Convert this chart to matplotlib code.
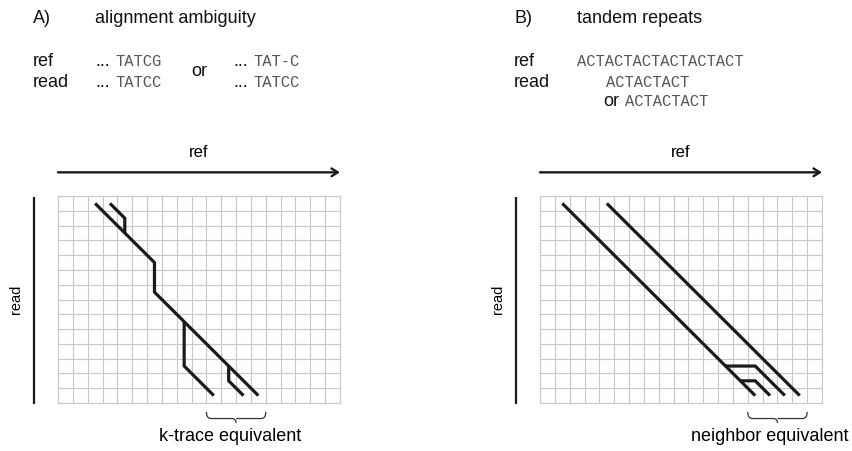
import matplotlib
matplotlib.use('Agg')
import matplotlib.pyplot as plt
from matplotlib.path import Path
from matplotlib.patches import PathPatch

plt.rcParams['font.family'] = ['Liberation Sans', 'DejaVu Sans']

# grid size (columns = ref positions, rows = read positions)
n_cols = 19
n_rows = 14

# panel A: traces through the alignment grid (cell centres)
a_main_x = [2.5, 6.5, 6.5, 13.5]
a_main_y = [0.5, 4.5, 6.5, 13.5]
a_top_x = [3.5, 4.5, 4.5]
a_top_y = [0.5, 1.5, 2.5]
a_mid_x = [8.5, 8.5, 10.5]
a_mid_y = [8.5, 11.5, 13.5]
a_low_x = [11.5, 11.5, 12.5]
a_low_y = [11.5, 12.5, 13.5]

# panel B: tandem repeat traces
b_diag1_x = [1.5, 14.5]
b_diag1_y = [0.5, 13.5]
b_diag2_x = [4.5, 17.5]
b_diag2_y = [0.5, 13.5]
b_br1_x = [12.5, 14.5, 16.5]
b_br1_y = [11.5, 11.5, 13.5]
b_br2_x = [13.5, 14.5, 15.5]
b_br2_y = [12.5, 12.5, 13.5]

# braces (column span) and labels
brace_a = [10, 14]
brace_b = [14, 18]
label_a = 'k-trace equivalent'
label_b = 'neighbor equivalent'

W, H = 852, 451
fig = plt.figure(figsize=(W / 100, H / 100), dpi=100)

def fx(px):
    return px / W

def fy(py):
    return 1 - py / H

ink = '#1a1a1a'
mono_col = '#555555'
big = 13

def setup_grid(ax):
    ax.set_xlim(0, n_cols)
    ax.set_ylim(n_rows, 0)
    ax.set_xticks(range(n_cols + 1))
    ax.set_yticks(range(n_rows + 1))
    ax.tick_params(length=0, labelbottom=False, labelleft=False)
    ax.grid(True, color='#c8c8c8', lw=0.8)
    for s in ax.spines.values():
        s.set_color('#c8c8c8')
        s.set_linewidth(0.8)
    # ref arrow on top
    ax.annotate('', xy=(n_cols, -1.6), xytext=(0, -1.6),
                arrowprops=dict(arrowstyle='->,head_length=0.45,head_width=0.28',
                                lw=1.7, color=ink, shrinkA=0, shrinkB=0),
                annotation_clip=False)
    ax.text(n_cols / 2, -2.95, 'ref', ha='center', va='center', fontsize=12)
    # read bar at left
    ax.plot([-1.65, -1.65], [0.05, 14.05], color=ink, lw=1.6, clip_on=False,
            solid_capstyle='butt')
    ax.text(-2.83, 7.0, 'read', ha='center', va='center', rotation=90, fontsize=10.5)

def trace(ax, xs, ys):
    ax.plot(xs, ys, color=ink, lw=2.3, solid_capstyle='butt',
            solid_joinstyle='miter', clip_on=False)

def brace(ax, x0, x1, y0=14.6, depth=0.75):
    xm = (x0 + x1) / 2
    r = 0.3
    yb = y0 + depth * 0.6
    verts = [(x0, y0), (x0, yb), (x0 + r, yb),
             (xm - r, yb), (xm, yb), (xm, y0 + depth),
             (xm, yb), (xm + r, yb),
             (x1 - r, yb), (x1, yb), (x1, y0)]
    codes = [Path.MOVETO, Path.CURVE3, Path.CURVE3,
             Path.LINETO, Path.CURVE3, Path.CURVE3,
             Path.MOVETO, Path.CURVE3,
             Path.LINETO, Path.CURVE3, Path.CURVE3]
    ax.add_patch(PathPatch(Path(verts, codes), fc='none', ec='#333333',
                           lw=0.9, clip_on=False))

ax_a = fig.add_axes([fx(58), fy(403), 282 / W, 207 / H])
ax_b = fig.add_axes([fx(540), fy(403), 282 / W, 207 / H])
setup_grid(ax_a)
setup_grid(ax_b)

trace(ax_a, a_main_x, a_main_y)
trace(ax_a, a_top_x, a_top_y)
trace(ax_a, a_mid_x, a_mid_y)
trace(ax_a, a_low_x, a_low_y)

trace(ax_b, b_diag1_x, b_diag1_y)
trace(ax_b, b_diag2_x, b_diag2_y)
trace(ax_b, b_br1_x, b_br1_y)
trace(ax_b, b_br2_x, b_br2_y)

brace(ax_a, *brace_a)
brace(ax_b, *brace_b)
ax_a.text(11.6, 16.25, label_a, ha='center', va='center', fontsize=big)
ax_b.text(15.5, 16.25, label_b, ha='center', va='center', fontsize=big)

# header texts
sans = dict(fontsize=big, va='baseline', color='#111111')
mono = dict(fontsize=11.2, va='baseline', color=mono_col, family='Liberation Mono')

fig.text(fx(33), fy(22.7), 'A)', **sans)
fig.text(fx(95), fy(22.7), 'alignment ambiguity', **sans)
fig.text(fx(33), fy(66.5), 'ref', **sans)
fig.text(fx(33), fy(87), 'read', **sans)
fig.text(fx(95), fy(66.5), '...', **sans)
fig.text(fx(95), fy(87), '...', **sans)
fig.text(fx(115), fy(66), 'TATCG', **mono)
fig.text(fx(115), fy(87), 'TATCC', **mono)
fig.text(fx(191), fy(76), 'or', **sans)
fig.text(fx(233), fy(66.5), '...', **sans)
fig.text(fx(233), fy(87), '...', **sans)
fig.text(fx(253), fy(66), 'TAT-C', **mono)
fig.text(fx(253), fy(87), 'TATCC', **mono)

fig.text(fx(514), fy(22.7), 'B)', **sans)
fig.text(fx(577), fy(22.7), 'tandem repeats', **sans)
fig.text(fx(514), fy(66.5), 'ref', **sans)
fig.text(fx(514), fy(87), 'read', **sans)
fig.text(fx(577), fy(66), 'ACTACTACTACTACTACT', **mono)
fig.text(fx(606), fy(87), 'ACTACTACT', **mono)
fig.text(fx(603), fy(106), 'or', **sans)
fig.text(fx(625), fy(106), 'ACTACTACT', **mono)

fig.savefig('out.png', dpi=100)
